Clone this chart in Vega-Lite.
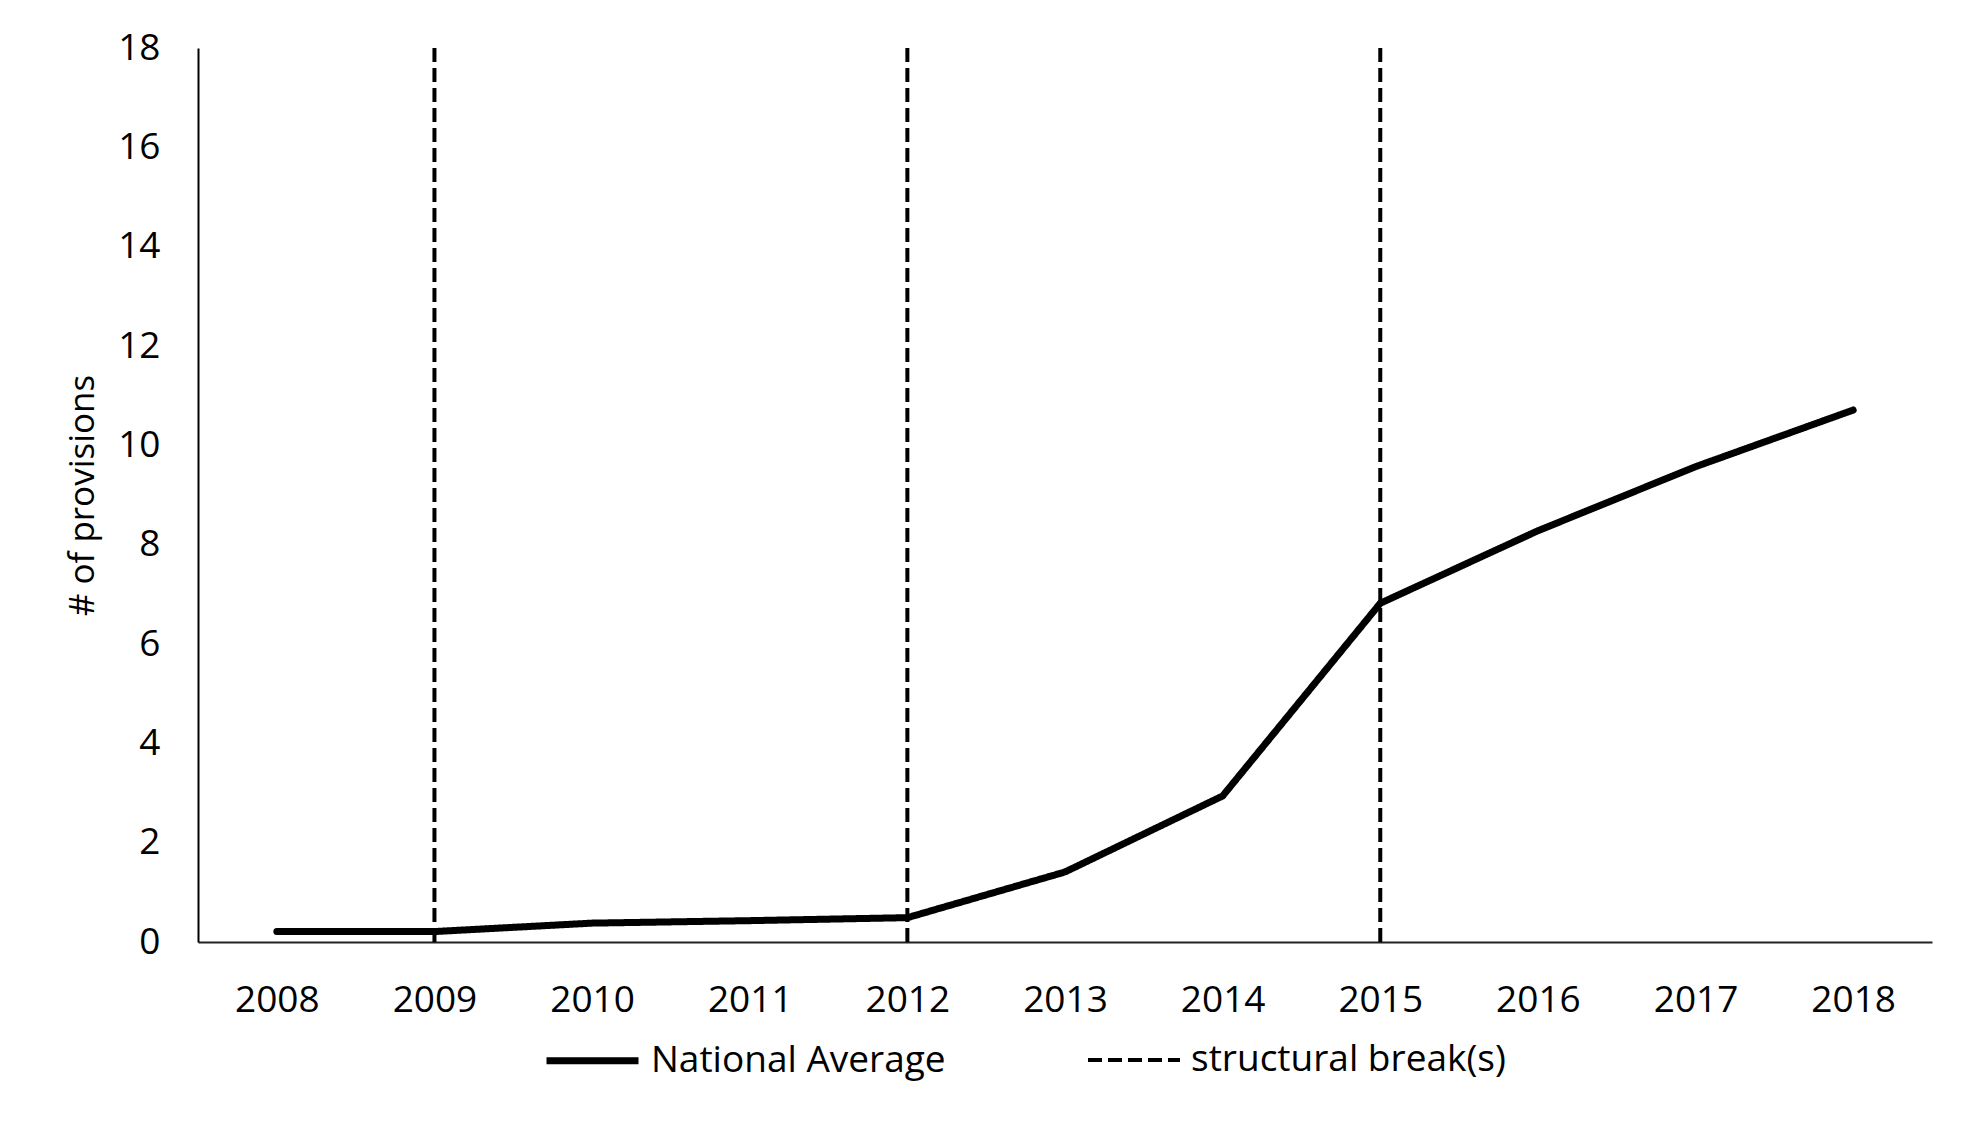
{
  "$schema": "https://vega.github.io/schema/vega-lite/v6.json",
  "width": 1734,
  "height": 894,
  "autosize": "none",
  "padding": {"left": 198, "top": 48, "right": 35, "bottom": 192},
  "background": "white",
  "datasets": {
    "national": [
      {"year": "2008", "value": 0.21, "series": "National Average"},
      {"year": "2009", "value": 0.21, "series": "National Average"},
      {"year": "2010", "value": 0.38, "series": "National Average"},
      {"year": "2011", "value": 0.43, "series": "National Average"},
      {"year": "2012", "value": 0.49, "series": "National Average"},
      {"year": "2013", "value": 1.41, "series": "National Average"},
      {"year": "2014", "value": 2.94, "series": "National Average"},
      {"year": "2015", "value": 6.82, "series": "National Average"},
      {"year": "2016", "value": 8.28, "series": "National Average"},
      {"year": "2017", "value": 9.57, "series": "National Average"},
      {"year": "2018", "value": 10.71, "series": "National Average"}
    ],
    "breaks": [
      {"year": "2009", "series": "structural break(s)"},
      {"year": "2012", "series": "structural break(s)"},
      {"year": "2015", "series": "structural break(s)"}
    ]
  },
  "layer": [
    {
      "data": {"name": "breaks"},
      "mark": {"type": "rule", "color": "black"},
      "encoding": {
        "x": {"field": "year", "type": "ordinal"},
        "strokeDash": {
          "field": "series", "type": "nominal",
          "scale": {"domain": ["National Average", "structural break(s)"], "range": [[1, 0], [14, 6]]}
        },
        "strokeWidth": {
          "field": "series", "type": "ordinal",
          "scale": {"type": "ordinal", "domain": ["National Average", "structural break(s)"], "range": [7, 4]}
        }
      }
    },
    {
      "data": {"name": "national"},
      "mark": {"type": "line", "color": "black", "strokeCap": "round", "strokeJoin": "round"},
      "encoding": {
        "x": {"field": "year", "type": "ordinal"},
        "y": {"field": "value", "type": "quantitative"},
        "strokeDash": {
          "field": "series", "type": "nominal",
          "scale": {"domain": ["National Average", "structural break(s)"], "range": [[1, 0], [14, 6]]}
        },
        "strokeWidth": {
          "field": "series", "type": "ordinal",
          "scale": {"type": "ordinal", "domain": ["National Average", "structural break(s)"], "range": [7, 4]}
        }
      }
    }
  ],
  "encoding": {
    "x": {
      "field": "year",
      "type": "ordinal",
      "scale": {"type": "point", "padding": 0.5},
      "axis": {
        "title": null,
        "ticks": false,
        "labelAngle": 0,
        "labelPadding": 40,
        "labelFont": "Open Sans",
        "labelFontSize": 37,
        "labelColor": "black",
        "domainColor": "#222",
        "domainWidth": 2
      }
    },
    "y": {
      "scale": {"domain": [0, 18], "nice": false},
      "axis": {
        "title": "# of provisions",
        "values": [0, 2, 4, 6, 8, 10, 12, 14, 16, 18],
        "ticks": false,
        "grid": false,
        "labelPadding": 38,
        "labelFont": "Open Sans",
        "labelFontSize": 37,
        "labelColor": "black",
        "domainColor": "black",
        "domainWidth": 2,
        "titleFont": "Open Sans",
        "titleFontSize": 35,
        "titleFontWeight": "normal",
        "titleColor": "black",
        "titleAngle": -90,
        "titleX": -116,
        "titleY": 447,
        "titleAlign": "center",
        "titleBaseline": "middle"
      }
    }
  },
  "resolve": {"scale": {"strokeDash": "shared", "strokeWidth": "shared"}},
  "config": {
    "view": {"stroke": null},
    "legend": {
      "orient": "none",
      "legendX": 345,
      "legendY": 963,
      "direction": "horizontal",
      "title": null,
      "symbolType": "stroke",
      "symbolSize": 8464,
      "symbolStrokeColor": "black",
      "labelFont": "Open Sans",
      "labelFontSize": 37,
      "labelColor": "black",
      "labelOffset": 9,
      "labelLimit": 0,
      "columnPadding": 134,
      "padding": 0
    }
  }
}
